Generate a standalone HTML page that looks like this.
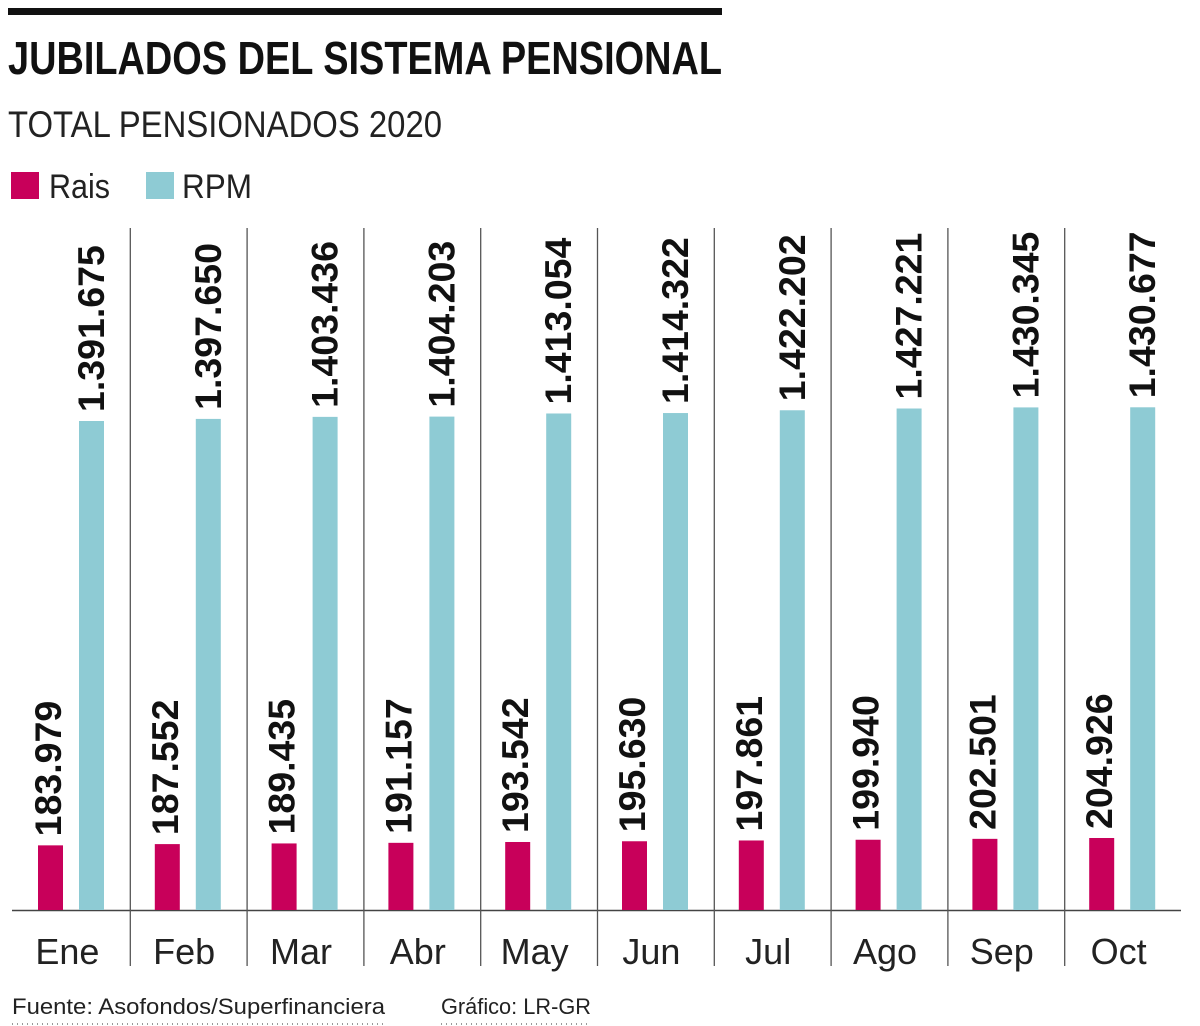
<!DOCTYPE html>
<html><head><meta charset="utf-8"><style>
html,body{margin:0;padding:0;background:#fff;}
svg{display:block;font-family:"Liberation Sans",sans-serif;}
</style></head><body>
<svg id="chart" width="1200" height="1026" viewBox="0 0 1200 1026">
<rect x="8" y="8" width="714" height="7" fill="#111"/>
<text x="8" y="74" font-size="46" font-weight="bold" textLength="714" lengthAdjust="spacingAndGlyphs" fill="#111">JUBILADOS DEL SISTEMA PENSIONAL</text>
<text x="8" y="137" font-size="37" textLength="434" lengthAdjust="spacingAndGlyphs" fill="#222">TOTAL PENSIONADOS 2020</text>
<g>
<rect x="11" y="172" width="28" height="27" fill="#c8005a"/>
<text x="49" y="198" font-size="34" textLength="61" lengthAdjust="spacingAndGlyphs" fill="#222">Rais</text>
<rect x="146" y="172" width="28" height="27" fill="#8ecbd4"/>
<text x="182" y="198" font-size="34" textLength="70" lengthAdjust="spacingAndGlyphs" fill="#222">RPM</text>
</g>
<line x1="12" y1="910.5" x2="1181" y2="910.5" stroke="#444" stroke-width="1.5"/>
<g id="plot"></g>
<text x="12" y="1014" font-size="22" textLength="373" lengthAdjust="spacingAndGlyphs" fill="#222">Fuente: Asofondos/Superfinanciera</text>
<text x="441" y="1014" font-size="22" textLength="150" lengthAdjust="spacingAndGlyphs" fill="#222">Gráfico: LR-GR</text>
<line x1="12" y1="1024" x2="385" y2="1024" stroke="#999" stroke-width="2" stroke-dasharray="1 4"/>
<line x1="441" y1="1024" x2="591" y2="1024" stroke="#999" stroke-width="2" stroke-dasharray="1 4"/>
</svg>
<script>
const categories=["Ene","Feb","Mar","Abr","May","Jun","Jul","Ago","Sep","Oct"];
const raisValues=[183979,187552,189435,191157,193542,195630,197861,199940,202501,204926];
const rpmValues=[1391675,1397650,1403436,1404203,1413054,1414322,1422202,1427221,1430345,1430677];
const NS="http://www.w3.org/2000/svg";
const plot=document.getElementById('plot');
const baseY=910, pxPerUnit=489/1391675, x0=13, catW=116.8;
function y(v){return baseY-v*pxPerUnit;}
function catX(i){return x0+i*catW;}
function fmt(v){return v.toString().replace(/\B(?=(\d{3})+(?!\d))/g,'.');}
function mk(tag,attrs){const e=document.createElementNS(NS,tag);for(const k in attrs)e.setAttribute(k,attrs[k]);plot.appendChild(e);return e;}
function label(v,cx){
  const t=mk('text',{transform:`translate(${cx+13},${y(v)-9}) rotate(-90)`,'font-size':37.5,'font-weight':'bold',fill:'#111'});
  t.textContent=fmt(v);
  return t;
}
categories.forEach((c,i)=>{
  const cx=catX(i);
  if(i>0){
    const s=mk('line',{x1:cx+0.5,y1:228,x2:cx+0.5,y2:966,stroke:'#555','stroke-width':1.3});
    
    
  }
  const r=mk('rect',{x:cx+25,y:y(raisValues[i]),width:25,height:baseY-y(raisValues[i]),fill:'#c8005a'});
  
  
  const p=mk('rect',{x:cx+66,y:y(rpmValues[i]),width:25,height:baseY-y(rpmValues[i]),fill:'#8ecbd4'});
  
  
  const l1=label(raisValues[i],cx+35);
  
  
  const l2=label(rpmValues[i],cx+78);
  
  
  const m=mk('text',{x:cx+catW/2-4,y:964,'font-size':36,'text-anchor':'middle',fill:'#222'});
  m.textContent=c;
  
  
});
</script>
</body></html>
